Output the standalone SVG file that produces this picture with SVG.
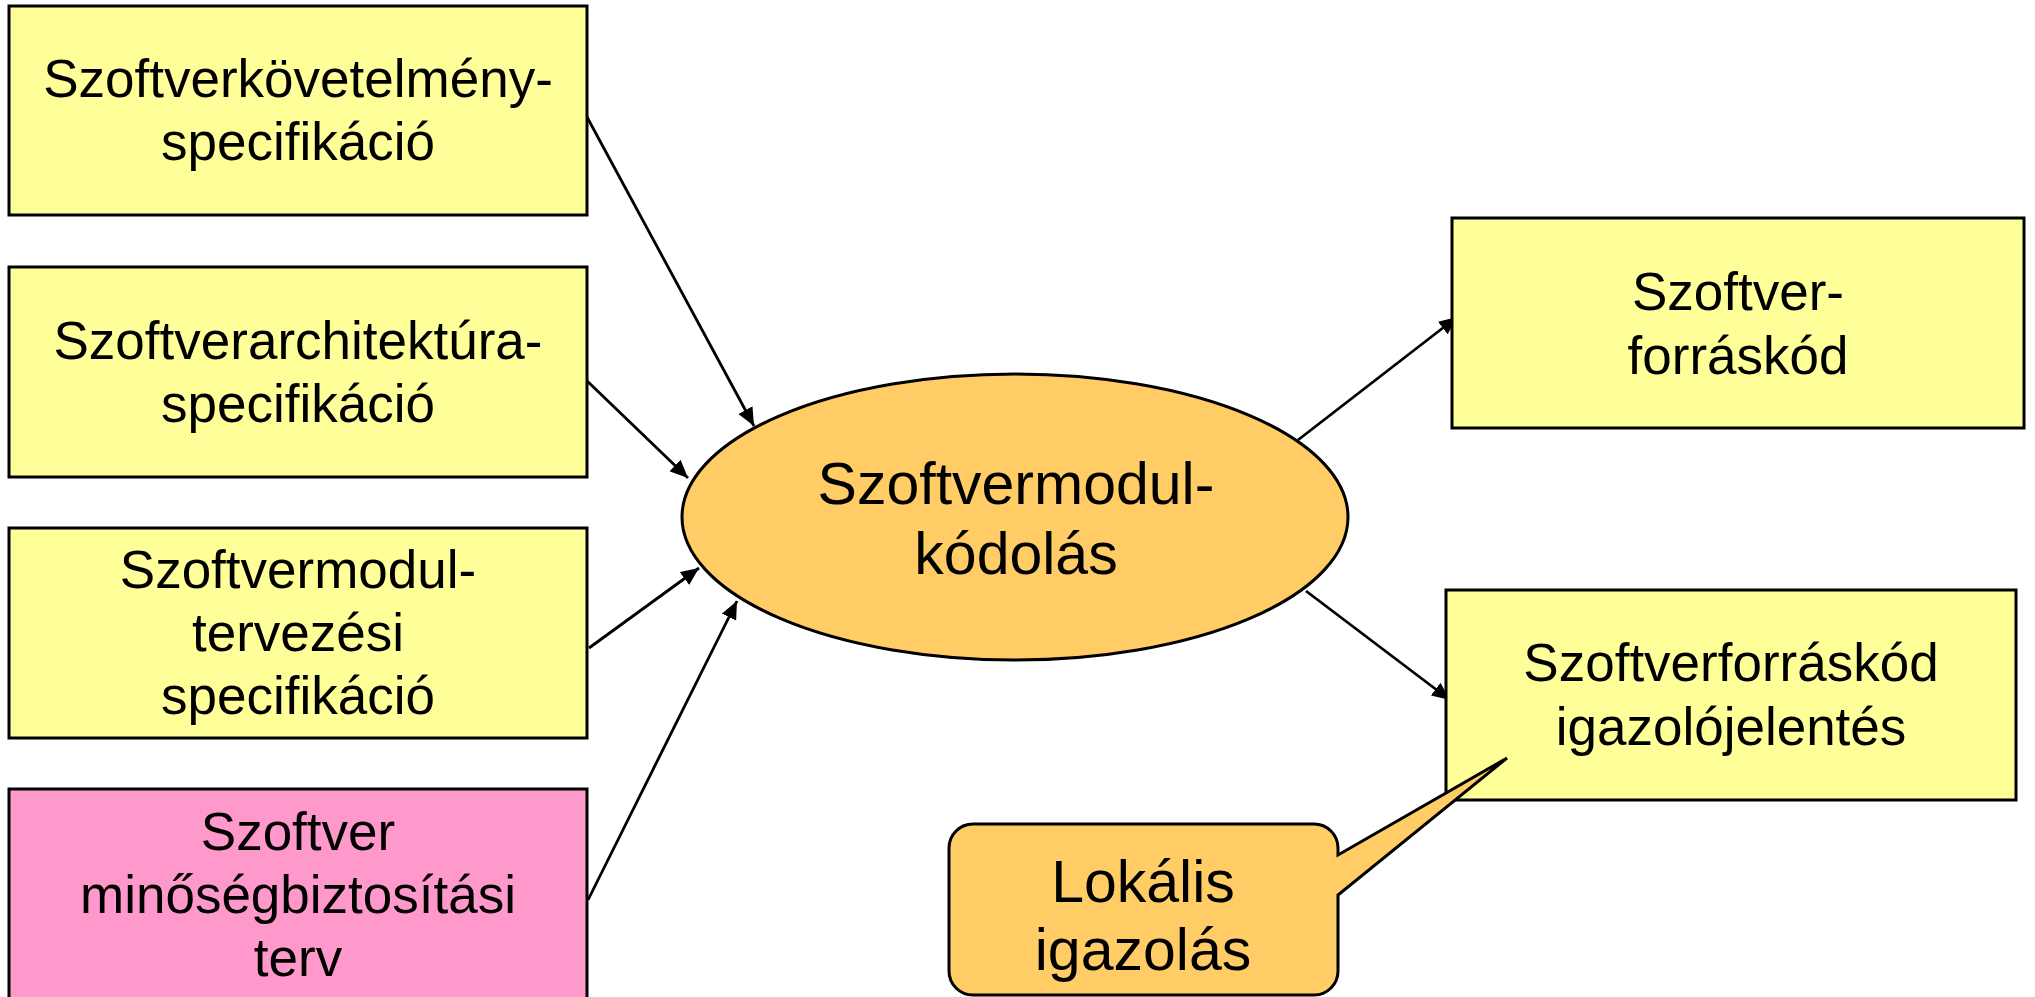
<svg xmlns="http://www.w3.org/2000/svg" width="2035" height="997" viewBox="0 0 2035 997">
<defs>
<marker id="arr" markerUnits="userSpaceOnUse" markerWidth="20" markerHeight="16" refX="18" refY="8" orient="auto">
<path d="M0,0 L18,8 L0,16 Z" fill="#000"/>
</marker>
<style>
.box{stroke:#000;stroke-width:3}
.y{fill:#FFFF99}
.p{fill:#FF99CC}
.o{fill:#FFCC66;stroke:#000;stroke-width:3}
.t{font-family:"Liberation Sans",Arial,sans-serif;font-size:53px;fill:#000;text-anchor:middle}
.tb{font-family:"Liberation Sans",Arial,sans-serif;font-size:59px;fill:#000;text-anchor:middle}
.c{stroke:#000;stroke-width:2.8;fill:none;marker-end:url(#arr)}
</style>
</defs>
<rect width="2035" height="997" fill="#fff"/>
<g id="connectors">
<line class="c" x1="587" y1="117" x2="754" y2="426"/>
<line class="c" x1="584" y1="378" x2="688" y2="478"/>
<line class="c" x1="589" y1="648" x2="699" y2="568"/>
<line class="c" x1="588" y1="900" x2="737" y2="601"/>
<line class="c" x1="1298" y1="440" x2="1457" y2="317"/>
<line class="c" x1="1306" y1="591" x2="1450" y2="700"/>
</g>
<g id="req">
<rect class="box y" x="9" y="6" width="578" height="209"/>
<text class="t" x="298" y="97">Szoftverkövetelmény-</text>
<text class="t" x="298" y="160">specifikáció</text>
</g>
<g id="arch">
<rect class="box y" x="9" y="267" width="578" height="210"/>
<text class="t" x="298" y="359">Szoftverarchitektúra-</text>
<text class="t" x="298" y="422">specifikáció</text>
</g>
<g id="design">
<rect class="box y" x="9" y="528" width="578" height="210"/>
<text class="t" x="298" y="588">Szoftvermodul-</text>
<text class="t" x="298" y="651">tervezési</text>
<text class="t" x="298" y="714">specifikáció</text>
</g>
<g id="qa">
<rect class="box p" x="9" y="789" width="578" height="215"/>
<text class="t" x="298" y="850">Szoftver</text>
<text class="t" x="298" y="913">minőségbiztosítási</text>
<text class="t" x="298" y="976">terv</text>
</g>
<g id="coding">
<ellipse class="o" cx="1015" cy="517" rx="333" ry="143"/>
<text class="tb" x="1016" y="504">Szoftvermodul-</text>
<text class="tb" x="1016" y="574">kódolás</text>
</g>
<g id="source">
<rect class="box y" x="1452" y="218" width="572" height="210"/>
<text class="t" x="1738" y="310">Szoftver-</text>
<text class="t" x="1738" y="374">forráskód</text>
</g>
<g id="report">
<rect class="box y" x="1446" y="590" width="570" height="210"/>
<text class="t" x="1731" y="681">Szoftverforráskód</text>
<text class="t" x="1731" y="745">igazolójelentés</text>
</g>
<g id="callout">
<path class="o" d="M973 824 H1314 A24 24 0 0 1 1338 848 V855 L1507 758 L1338 895 V971 A24 24 0 0 1 1314 995 H973 A24 24 0 0 1 949 971 V848 A24 24 0 0 1 973 824 Z"/>
<text class="tb" x="1143" y="902">Lokális</text>
<text class="tb" x="1143" y="970">igazolás</text>
</g>
</svg>
